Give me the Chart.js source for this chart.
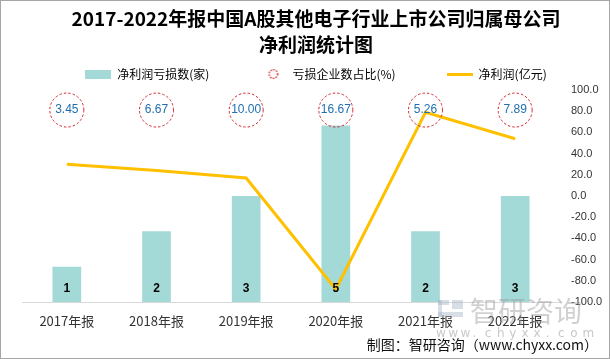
<!DOCTYPE html>
<html lang="zh">
<head>
<meta charset="UTF-8">
<title>净利润统计图</title>
<script src="https://cdn.jsdelivr.net/npm/chart.js@4.4.0/dist/chart.umd.min.js"></script>
<style>
  html, body { margin: 0; padding: 0; background: #fff; }
  #wrap { width: 610px; height: 359px; }
  #chart { display: block; }
</style>
</head>
<body>
<div id="wrap"><canvas id="chart" width="610" height="359"></canvas></div>
<script>
// data
var years = ['2017年报', '2018年报', '2019年报', '2020年报', '2021年报', '2022年报'];
var lossCount = [1, 2, 3, 5, 2, 3];                       // 净利润亏损数(家)
var lossRatio = [3.45, 6.67, 10.00, 16.67, 5.26, 7.89];   // 亏损企业数占比(%)
var netProfit = [30, 24, 17, -88, 79, 54];                // 净利润(亿元)

var titleLines = ['2017-2022年报中国A股其他电子行业上市公司归属母公司', '净利润统计图'];
var seriesNames = ['净利润亏损数(家)', '亏损企业数占比(%)', '净利润(亿元)'];

var TEAL = '#A3D9D6', GOLD = '#FFC000', RED = '#D7262C';
var CJK = '"Noto Sans CJK SC", "Noto Sans", sans-serif';

function swatch(w, h, draw) {
  var c = document.createElement('canvas');
  c.width = w; c.height = h;
  draw(c.getContext('2d'));
  return c;
}
var barSwatch = swatch(26, 9, function(g) { g.fillStyle = TEAL; g.fillRect(0, 0, 26, 9); });
var dotSwatch = swatch(12, 12, function(g) {
  g.strokeStyle = RED; g.lineWidth = 1.3; g.setLineDash([1.6, 1.2]);
  g.beginPath(); g.arc(6, 6, 4.3, 0, Math.PI * 2); g.stroke();
});
var lineSwatch = swatch(26, 3, function(g) { g.fillStyle = GOLD; g.fillRect(0, 0, 26, 3); });
var swatches = [barSwatch, dotSwatch, lineSwatch];

// number inside the base of each bar
var barLabels = {
  id: 'barLabels',
  afterDatasetsDraw: function(chart) {
    var meta = chart.getDatasetMeta(2);
    var ctx = chart.ctx;
    ctx.save();
    ctx.font = 'bold 12px "Liberation Sans", sans-serif';
    ctx.fillStyle = '#000';
    ctx.textAlign = 'center';
    ctx.textBaseline = 'middle';
    meta.data.forEach(function(bar, i) {
      ctx.fillText(String(lossCount[i]), bar.x, bar.base - 13);
    });
    ctx.restore();
  }
};

// dashed circles with the loss ratio above each year
var ratioBubbles = {
  id: 'ratioBubbles',
  afterDatasetsDraw: function(chart) {
    var ctx = chart.ctx, x = chart.scales.x, top = chart.chartArea.top;
    ctx.save();
    lossRatio.forEach(function(v, i) {
      var cx = x.getPixelForValue(i), cy = top + 20;
      ctx.strokeStyle = RED;
      ctx.lineWidth = 1;
      ctx.setLineDash([2.5, 2]);
      ctx.beginPath();
      ctx.arc(cx, cy, 17, 0, Math.PI * 2);
      ctx.stroke();
      ctx.setLineDash([]);
      ctx.font = '12px "Liberation Sans", sans-serif';
      ctx.fillStyle = '#1F6FAE';
      ctx.textAlign = 'center';
      ctx.textBaseline = 'middle';
      ctx.fillText(v.toFixed(2), cx, cy);
    });
    ctx.restore();
  }
};

// frame, watermark and source line
var decor = {
  id: 'decor',
  beforeDraw: function(chart) {
    var ctx = chart.ctx;
    ctx.save();
    ctx.fillStyle = '#fff';
    ctx.fillRect(0, 0, chart.width, chart.height);
    ctx.restore();
  },
  afterDraw: function(chart) {
    var ctx = chart.ctx;
    ctx.save();
    // watermark
    ctx.globalAlpha = 0.45;
    ctx.fillStyle = '#A9B6C8';
    ctx.fillRect(438, 300, 11, 5);
    ctx.fillRect(438, 300, 4, 17);
    ctx.fillRect(438, 312, 25, 5);
    ctx.fillRect(452, 300, 11, 9);
    ctx.fillStyle = '#9A9A9A';
    ctx.font = '28px ' + CJK;
    ctx.textBaseline = 'middle';
    ctx.textAlign = 'left';
    ctx.fillText('智研咨询', 470, 311);
    ctx.globalAlpha = 0.7;
    ctx.fillStyle = '#B0B0B0';
    ctx.font = '12px "DejaVu Sans", sans-serif';
    var site = 'www.chyxx.com'.split('');
    site.forEach(function(ch, i) {
      ctx.fillText(ch, 436 + i * 12.2, 334);
    });
    ctx.globalAlpha = 1;
    // source
    ctx.fillStyle = '#111';
    ctx.font = '14px ' + CJK;
    ctx.textAlign = 'right';
    ctx.fillText('制图：智研咨询（www.chyxx.com）', 598, 345);
    // frame
    ctx.strokeStyle = '#A6A6A6';
    ctx.lineWidth = 1;
    ctx.strokeRect(0.5, 0.5, chart.width - 1, chart.height - 1);
    ctx.restore();
  }
};

new Chart(document.getElementById('chart'), {
  data: {
    labels: years,
    datasets: [
      {
        type: 'line',
        label: seriesNames[2],
        data: netProfit,
        yAxisID: 'y1',
        borderColor: GOLD,
        borderWidth: 3,
        pointRadius: 0,
        tension: 0,
        order: 0
      },
      {
        type: 'line',
        label: seriesNames[1],
        data: lossRatio,
        yAxisID: 'yP',
        showLine: false,
        pointRadius: 0,
        order: 1
      },
      {
        type: 'bar',
        label: seriesNames[0],
        data: lossCount,
        yAxisID: 'y',
        backgroundColor: TEAL,
        categoryPercentage: 1,
        barPercentage: 0.32,
        order: 2
      }
    ]
  },
  options: {
    responsive: false,
    animation: false,
    layout: { padding: { left: 22, right: 0, top: 0, bottom: 0 } },
    plugins: {
      tooltip: { enabled: false },
      title: {
        display: true,
        text: titleLines,
        color: '#000',
        font: { family: CJK, size: 19, weight: 'bold', lineHeight: 1.37 },
        padding: { top: 6, bottom: -41 }
      },
      legend: {
        display: true,
        position: 'top',
        labels: {
          usePointStyle: true,
          pointStyleWidth: 26,
          padding: 51,
          color: '#333',
          font: { family: CJK, size: 12 },
          generateLabels: function() {
            return seriesNames.map(function(name, i) {
              return {
                text: name,
                pointStyle: swatches[i],
                fillStyle: 'transparent',
                strokeStyle: 'transparent',
                lineWidth: 0,
                hidden: false,
                datasetIndex: [2, 1, 0][i]
              };
            });
          }
        }
      }
    },
    scales: {
      x: {
        offset: true,
        grid: { display: false },
        border: { display: true, color: '#D9D9D9', width: 1 },
        ticks: {
          padding: 3,
          color: '#333',
          font: { family: CJK, size: 13 },
          maxRotation: 0
        },
        afterFit: function(s) { s.height = 57; }
      },
      y: {
        display: false,
        min: 0,
        max: 6
      },
      yP: {
        display: false,
        min: 0,
        max: 20
      },
      y1: {
        position: 'right',
        min: -100,
        max: 100,
        grid: { display: false, drawTicks: false },
        border: { display: false },
        ticks: {
          stepSize: 20,
          padding: 11,
          color: '#333',
          font: { family: '"Liberation Sans", sans-serif', size: 11 },
          callback: function(v) { return v.toFixed(1); }
        },
        afterFit: function(s) { s.width = 50; }
      }
    }
  },
  plugins: [decor, barLabels, ratioBubbles]
});
</script>
</body>
</html>
